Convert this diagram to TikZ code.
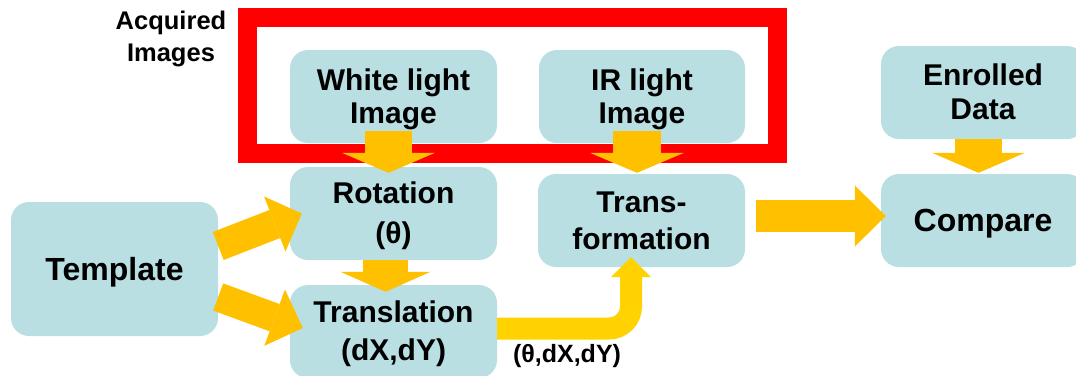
\documentclass[tikz,border=0pt]{standalone}
\usepackage{fontspec}
\setmainfont{Liberation Sans}
\usetikzlibrary{arrows.meta,calc}
\definecolor{boxblue}{HTML}{B9DFE3}
\definecolor{arrowor}{HTML}{FFC000}
\definecolor{arrowye}{HTML}{FFD200}
\definecolor{framered}{HTML}{FF0000}
\newcommand\pptstrut{\rule[-0.212em]{0pt}{1.117em}}
\newcommand\noskiplimit{\lineskiplimit=-100pt\relax}
\newcommand\boxfont{\fontsize{30}{33}\selectfont\bfseries\noskiplimit}
\newcommand\bigboxfont{\fontsize{32}{36}\selectfont\bfseries\noskiplimit}
\newcommand\captionfont{\fontsize{25.5}{32}\selectfont\bfseries\noskiplimit}
\newcommand\labelfont{\fontsize{25}{30}\selectfont\bfseries}
\begin{document}
\begin{tikzpicture}[x=1pt,y=-1pt,
  box/.style={fill=boxblue, rounded corners=18pt, align=center, inner sep=0pt,
    minimum width=207pt, minimum height=93pt, font=\boxfont},
  bigbox/.style={box, font=\bigboxfont},
  plaintext/.style={align=center, inner sep=0pt, font=\captionfont},
  blockarrow/.style n args={4}{draw=#1, line width=#2,
    -{Triangle[width=#3, length=#4, line width=0pt, fill=#1]}},
  framestyle/.style={draw=framered, line width=19pt}]
\useasboundingbox (0,0) rectangle (1076,375);
\clip (0,0) rectangle (1076,375);

% boxes
\node[bigbox, minimum height=134pt] (tmpl) at (114.5,269) {\pptstrut Template};
\node[box] (white) at (393.5,96.5) {\pptstrut White light\\\pptstrut Image};
\node[box, minimum width=206pt] (ir) at (642,96.5) {\pptstrut IR light\\\pptstrut Image};
\node[box] (rot) at (393.5,213.5) {\pptstrut Rotation\\[7pt]\pptstrut (θ)};
\node[box] (trans) at (393.5,331.5) {\pptstrut Translation\\[5pt]\pptstrut (dX,dY)};
\node[box] (tform) at (641.5,220.5) {\pptstrut Trans-\\[4pt]\pptstrut formation};
\node[box, minimum width=204pt] (enr) at (983,92.5) {\pptstrut Enrolled\\[1pt]\pptstrut Data};
\node[bigbox, minimum width=204pt] (cmp) at (983,220.5) {\pptstrut Compare};

% acquired images frame and caption
\node[plaintext] (acq) at (171,36.2) {\pptstrut Acquired\\\pptstrut Images};
\draw[framestyle] (247.5,17.5) rectangle (777.5,153.5);

% block arrows
\draw[blockarrow={arrowor}{47pt}{93pt}{20pt}]
  ([xshift=-5pt,yshift=12pt]white.south) -- ([xshift=-5pt,yshift=-6pt]rot.north);
\draw[blockarrow={arrowor}{48pt}{94pt}{20pt}]
  ([xshift=-5pt,yshift=12pt]ir.south) -- ([xshift=-4.5pt,yshift=1pt]tform.north);
\draw[blockarrow={arrowor}{45pt}{90pt}{20pt}]
  ([xshift=-8pt]rot.south) -- ([xshift=-8pt,yshift=-7pt]trans.north);
\draw[blockarrow={arrowor}{47pt}{93pt}{20pt}]
  ([xshift=-4.5pt]enr.south) -- ([xshift=-4.5pt,yshift=1pt]cmp.north);
\draw[blockarrow={arrowor}{32pt}{61pt}{31pt}]
  ([xshift=11pt,yshift=4.5pt]tform.east) -- ([xshift=5pt,yshift=4.5pt]cmp.west);
\draw[blockarrow={arrowor}{30pt}{59pt}{29pt}]
  ([yshift=23pt]tmpl.east) -- ([xshift=12pt]rot.west);
\draw[blockarrow={arrowor}{29pt}{60pt}{30pt}]
  ([yshift=-28pt]tmpl.east) -- ([xshift=13pt,yshift=3.5pt]trans.west);
\draw[blockarrow={arrowye}{22pt}{40pt}{20pt}, rounded corners=22pt]
  ([yshift=3pt]trans.east) -| ([xshift=-10.5pt,yshift=10pt]tform.south);

\node[font=\labelfont, inner sep=0pt, anchor=base] (lbl) at (567,362) {(θ,dX,dY)};
\end{tikzpicture}
\end{document}
